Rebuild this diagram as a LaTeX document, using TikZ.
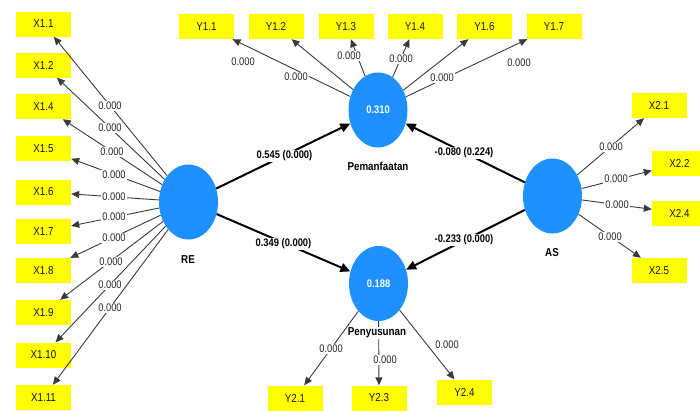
\documentclass[tikz,border=0pt]{standalone}
\usepackage{fontspec}
\setmainfont{Liberation Sans}[FakeStretch=0.85]
\usetikzlibrary{arrows.meta,shapes.geometric}
\definecolor{lvblue}{HTML}{1E90FF}
\definecolor{indyellow}{HTML}{FFFF00}
\definecolor{loadgray}{HTML}{3A3A3A}

\begin{document}
\begin{tikzpicture}[x=1pt,y=-1pt,
  lv/.style={ellipse, fill=lvblue, minimum width=59pt, minimum height=75pt,
    inner sep=0pt, text=white, font=\fontsize{11}{13}\selectfont\bfseries},
  ind/.style={rectangle, fill=indyellow, minimum width=55pt, minimum height=25pt,
    inner sep=0pt, text=black!90, font=\fontsize{11.5}{13}\selectfont},
  load/.style={draw=loadgray, line width=0.9pt, -{Triangle[length=8pt,width=7pt]}},
  struct/.style={draw=black, line width=2pt, -{Triangle[length=10pt,width=9pt]}},
  lbl/.style={fill=white, inner sep=1pt, text=black!85, font=\fontsize{11}{13}\selectfont},
  plbl/.style={fill=white, inner sep=1pt, text=black, font=\fontsize{11}{13}\selectfont\bfseries},
  lvname/.style={fill=white, inner sep=1pt, text=black, font=\fontsize{11.5}{13}\selectfont\bfseries}
]
\useasboundingbox (0,0) rectangle (700,410);

% latent variables
\node[lv] (RE)  at (188.5,202) {};
\node[lv] (PM)  at (378,110)   {0.310};
\node[lv] (PY)  at (378.5,283.5) {0.188};
\node[lv] (AS)  at (552.5,196) {};

% indicators of RE
\node[ind] (X11)  at (43.5,24)    {X1.1};
\node[ind] (X12)  at (43.5,65)    {X1.2};
\node[ind] (X14)  at (43.5,106.5) {X1.4};
\node[ind] (X15)  at (43.5,148.5) {X1.5};
\node[ind] (X16)  at (43.5,192)   {X1.6};
\node[ind] (X17)  at (43.5,231.5) {X1.7};
\node[ind] (X18)  at (43.5,270.5) {X1.8};
\node[ind] (X19)  at (43.5,312.5) {X1.9};
\node[ind] (X110) at (43.5,355)   {X1.10};
\node[ind] (X111) at (43.5,397.5) {X1.11};

% indicators of Pemanfaatan
\node[ind] (Y11) at (206.5,26.5) {Y1.1};
\node[ind] (Y12) at (276,26.5)   {Y1.2};
\node[ind] (Y13) at (346,26.5)   {Y1.3};
\node[ind] (Y14) at (415,26.5)   {Y1.4};
\node[ind] (Y16) at (484.5,26.5) {Y1.6};
\node[ind] (Y17) at (554,26.5)   {Y1.7};

% indicators of Penyusunan
\node[ind] (Y21) at (295,398)   {Y2.1};
\node[ind] (Y23) at (379,398)   {Y2.3};
\node[ind] (Y24) at (464.5,392) {Y2.4};

% indicators of AS
\node[ind] (X21) at (659,105.5)   {X2.1};
\node[ind] (X22) at (679.5,163.5) {X2.2};
\node[ind] (X24) at (679.5,213)   {X2.4};
\node[ind] (X25) at (659,270.5)   {X2.5};

% outer loadings
\foreach \t in {X11,X12,X14,X15,X16,X17,X18,X19,X110,X111}
  \draw[load] (RE) -- (\t);
\foreach \t in {Y11,Y12,Y13,Y14,Y16,Y17}
  \draw[load] (PM) -- (\t);
\foreach \t in {Y21,Y23,Y24}
  \draw[load] (PY) -- (\t);
\foreach \t in {X21,X22,X24,X25}
  \draw[load] (AS) -- (\t);

% structural paths
\draw[struct] (RE) -- (PM);
\draw[struct] (RE) -- (PY);
\draw[struct] (AS) -- (PM);
\draw[struct] (AS) -- (PY);

% loading values
\foreach \p in {(110,106),(110,128),(112,152),(114,175),(114,197),
                (114,217),(114,238),(111,262),(110,285),(110,308)}
  \node[lbl] at \p {0.000};
\foreach \p in {(243,62),(296,77),(349,56),(401,59),(442,78),(519,63)}
  \node[lbl] at \p {0.000};
\foreach \p in {(331,349),(385,360),(447,345)}
  \node[lbl] at \p {0.000};
\foreach \p in {(611,147),(616,179),(617,205),(610,237)}
  \node[lbl] at \p {0.000};

% path coefficients
\node[plbl] at (284.5,156) {0.545 (0.000)};
\node[plbl] at (283.5,244) {0.349 (0.000)};
\node[plbl] at (464,153)   {-0.080 (0.224)};
\node[plbl] at (464,240)   {-0.233 (0.000)};

% construct names
\node[lvname] at (188,260) {RE};
\node[lvname] at (378,166) {Pemanfaatan};
\node[lvname] at (377,333) {Penyusunan};
\node[lvname] at (552,253) {AS};
\end{tikzpicture}
\end{document}
